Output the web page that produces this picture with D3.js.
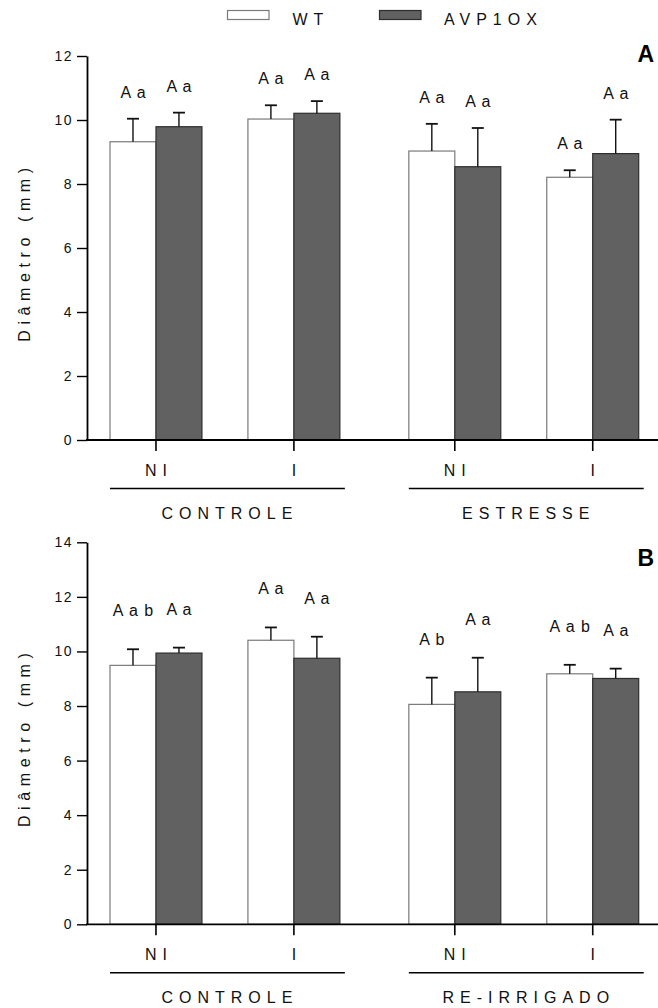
<!DOCTYPE html>
<html>
<head>
<meta charset="utf-8">
<script src="https://cdn.jsdelivr.net/npm/d3@7"></script>
<style>
  html, body { margin: 0; padding: 0; background: #fff; }
  svg { display: block; font-family: "Liberation Sans", Arial, sans-serif; }
</style>
</head>
<body>
<svg id="chart" width="658" height="1008"></svg>
<script>
// Genotypes and experimental levels
const series = ["WT", "AVP1OX"];
const conditions = ["NI", "I"];
const treatmentsA = ["CONTROLE", "ESTRESSE"];
const treatmentsB = ["CONTROLE", "RE-IRRIGADO"];
const ticksA = [0, 2, 4, 6, 8, 10, 12];
const ticksB = [0, 2, 4, 6, 8, 10, 12, 14];

// Stem diameter (mm), order: CONTROLE-NI, CONTROLE-I, second treatment NI, I
const meanWT_A  = [9.32, 10.03, 9.03, 8.21];
const meanAVP_A = [9.79, 10.21, 8.54, 8.95];
const errWT_A   = [0.72, 0.43, 0.85, 0.22];
const errAVP_A  = [0.44, 0.38, 1.21, 1.06];
const lettersWT_A  = ["A a", "A a", "A a", "A a"];
const lettersAVP_A = ["A a", "A a", "A a", "A a"];

const meanWT_B  = [9.49, 10.41, 8.06, 9.18];
const meanAVP_B = [9.94, 9.75, 8.52, 9.01];
const errWT_B   = [0.59, 0.47, 0.98, 0.33];
const errAVP_B  = [0.20, 0.79, 1.25, 0.36];
const lettersWT_B  = ["A a b", "A a", "A b", "A a b"];
const lettersAVP_B = ["A a", "A a", "A a", "A a"];

const yTitle = "Diâmetro (mm)";

const svg = d3.select("#chart");
const FILL = { "WT": "#ffffff", "AVP1OX": "#616161" };
const EDGE = { "WT": "#7a7a7a", "AVP1OX": "#2e2e2e" };
const SP = 6; // expanded character spacing used for captions

function spaced(sel, size, sp) {
  return sel.attr("font-size", size).attr("letter-spacing", sp);
}

// Legend
const legend = svg.append("g");
const legendItems = [{ s: "WT", x: 227.5, tx: 292.5 }, { s: "AVP1OX", x: 379.5, tx: 444 }];
legendItems.forEach(d => {
  legend.append("rect").attr("x", d.x).attr("y", 10.5).attr("width", 41.5).attr("height", 9)
    .attr("fill", FILL[d.s]).attr("stroke", EDGE[d.s]).attr("stroke-width", 1.2);
  spaced(legend.append("text"), 16, SP).attr("x", d.tx).attr("y", 25).attr("fill", "#111").text(d.s);
});

function panel(cfg) {
  const g = svg.append("g");
  const y = d3.scaleLinear().domain([0, cfg.max]).range([cfg.y0, cfg.y1]);
  const outer = d3.scaleBand().domain(cfg.treatments).range([110, 638.7]).paddingInner(69 / 299);
  const inner = d3.scaleBand().domain(conditions).range([0, outer.bandwidth()]).paddingInner(1 / 3);
  const bar = d3.scaleBand().domain(series).range([0, inner.bandwidth()]);

  const rows = [];
  cfg.treatments.forEach((t, ti) => {
    conditions.forEach((c, ci) => {
      const k = ti * 2 + ci;
      rows.push({ t, c, s: "WT", v: cfg.wt[k], e: cfg.ewt[k], lab: cfg.lwt[k] });
      rows.push({ t, c, s: "AVP1OX", v: cfg.avp[k], e: cfg.eavp[k], lab: cfg.lavp[k] });
    });
  });
  const bx = d => outer(d.t) + inner(d.c) + bar(d.s);
  const cx = d => bx(d) + bar.bandwidth() / 2;

  // bars
  g.selectAll("rect.bar").data(rows).join("rect").attr("class", "bar")
    .attr("x", bx).attr("width", bar.bandwidth())
    .attr("y", d => y(d.v)).attr("height", d => y(0) - y(d.v))
    .attr("fill", d => FILL[d.s]).attr("stroke", d => EDGE[d.s]).attr("stroke-width", 1.2);

  // upper error bars
  const eb = g.selectAll("g.err").data(rows).join("g").attr("class", "err")
    .attr("stroke", "#111").attr("stroke-width", 1.4);
  eb.append("line").attr("x1", cx).attr("x2", cx).attr("y1", d => y(d.v)).attr("y2", d => y(d.v + d.e));
  eb.append("line").attr("x1", d => cx(d) - 6).attr("x2", d => cx(d) + 6)
    .attr("y1", d => y(d.v + d.e)).attr("y2", d => y(d.v + d.e)).attr("stroke-width", 1.8);

  // significance letters
  g.selectAll("text.lab").data(rows).join("text").attr("class", "lab")
    .attr("x", cx).attr("dx", 0.5).attr("y", d => y(d.v + d.e) - cfg.lift)
    .attr("text-anchor", "middle").attr("font-size", 16).attr("letter-spacing", 1)
    .attr("fill", "#111").text(d => d.lab);

  // y axis
  const ya = g.append("g").attr("transform", "translate(87,0)")
    .call(d3.axisLeft(y).tickValues(cfg.ticks).tickSize(10).tickSizeOuter(0).tickPadding(4));
  ya.select(".domain").attr("stroke", "#000").attr("stroke-width", 1.8);
  ya.selectAll(".tick line").attr("stroke", "#000").attr("stroke-width", 1.4);
  ya.selectAll(".tick text").attr("font-size", 14).attr("letter-spacing", 1.5)
    .attr("fill", "#111").attr("font-family", "Liberation Sans, Arial, sans-serif");

  // x baseline across the plot
  g.append("line").attr("x1", 86).attr("x2", 658).attr("y1", y(0)).attr("y2", y(0))
    .attr("stroke", "#000").attr("stroke-width", 1.8);

  // condition ticks and labels
  const ticks = [];
  cfg.treatments.forEach(t => conditions.forEach(c => ticks.push({ t, c, x: outer(t) + inner(c) + inner.bandwidth() / 2 })));
  g.selectAll("line.ct").data(ticks).join("line").attr("class", "ct")
    .attr("x1", d => d.x).attr("x2", d => d.x).attr("y1", y(0)).attr("y2", y(0) + 11)
    .attr("stroke", "#000").attr("stroke-width", 1.6);
  spaced(g.selectAll("text.ct").data(ticks).join("text").attr("class", "ct"), 16, SP)
    .attr("x", d => d.x).attr("dx", SP / 2).attr("y", y(0) + 36)
    .attr("text-anchor", "middle").attr("fill", "#111").text(d => d.c);

  // treatment brackets
  g.selectAll("line.tr").data(cfg.treatments).join("line").attr("class", "tr")
    .attr("x1", d => outer(d)).attr("x2", d => outer(d) + outer.bandwidth() + 5)
    .attr("y1", y(0) + 48.5).attr("y2", y(0) + 48.5).attr("stroke", "#000").attr("stroke-width", 1.5);
  spaced(g.selectAll("text.tr").data(cfg.treatments).join("text").attr("class", "tr"), 16, SP)
    .attr("x", d => outer(d) + outer.bandwidth() / 2 + 2).attr("dx", SP / 2).attr("y", y(0) + 79)
    .attr("text-anchor", "middle").attr("fill", "#111").text(d => d);

  // y title
  spaced(g.append("text"), 16, 5.6)
    .attr("transform", `translate(29.5,${(cfg.y0 + cfg.y1) / 2 + 4}) rotate(-90)`)
    .attr("text-anchor", "middle").attr("fill", "#111").text(yTitle);

  // panel letter
  g.append("text").attr("x", 654).attr("y", cfg.tagY).attr("text-anchor", "end")
    .attr("font-size", 23).attr("font-weight", "bold").attr("fill", "#000").text(cfg.tag);
}

panel({ max: 12, y0: 440, y1: 56, ticks: ticksA, treatments: treatmentsA,
  wt: meanWT_A, avp: meanAVP_A, ewt: errWT_A, eavp: errAVP_A, lwt: lettersWT_A, lavp: lettersAVP_A,
  lift: 21, tag: "A", tagY: 62 });
panel({ max: 14, y0: 924.3, y1: 542.3, ticks: ticksB, treatments: treatmentsB,
  wt: meanWT_B, avp: meanAVP_B, ewt: errWT_B, eavp: errAVP_B, lwt: lettersWT_B, lavp: lettersAVP_B,
  lift: 33, tag: "B", tagY: 566 });
</script>
</body>
</html>
